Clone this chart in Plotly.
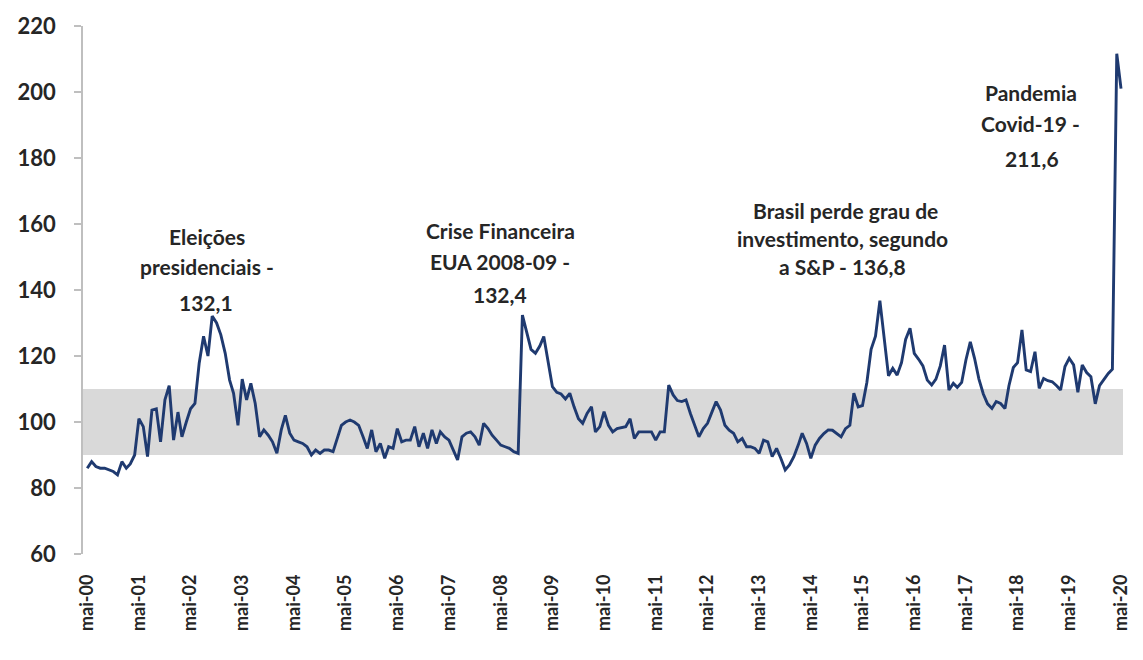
import pandas as pd
import plotly.graph_objects as go

# Monthly index values, starting May 2000
values_2000_2004 = [
    86, 88, 86.5, 86, 86, 85.5, 85, 84,                              # 2000 (mai-dez)
    88, 86, 87.3, 90, 101, 98.6, 89.5, 103.6, 104, 94, 106.7, 111,   # 2001
    94.5, 103, 95.5, 100, 104, 105.6, 117.8, 126, 120, 132.1, 130, 126.4,  # 2002
    120.8, 112.7, 108.7, 99, 113, 106.7, 111.7, 105.6, 95.5, 97.6, 96, 94,  # 2003
    90.5, 97.6, 102, 96.6, 94.5, 94, 93.5, 92.5, 90, 91.5, 90.5, 91.5,      # 2004
]
values_2005_2009 = [
    91.5, 91, 95, 99, 100, 100.6, 100, 99, 95.5, 92, 97.6, 91,            # 2005
    93.5, 89, 92.5, 92, 98, 94, 94.5, 94.5, 98.6, 92.5, 96.6, 92,         # 2006
    97.6, 93.5, 97, 95.5, 94.5, 91.5, 88.5, 95.5, 96.6, 97, 95.5, 93,     # 2007
    99.6, 98, 96, 94.5, 93, 92.5, 92, 91, 90.5, 132.4, 126.9, 122,        # 2008
    120.8, 123, 125.9, 117.8, 110.7, 109, 108.5, 107, 108.7, 104.6, 101, 99.6,  # 2009
]
values_2010_2014 = [
    102.6, 104.6, 97, 98.6, 103.1, 99, 97, 98, 98.3, 98.6, 101, 95,       # 2010
    97, 97, 97, 97, 94.5, 97, 97, 111.2, 108.2, 106.5, 106.2, 106.7,      # 2011
    102.6, 99, 95.5, 98, 99.6, 103, 106.2, 103.6, 99, 97.5, 96.6, 94,     # 2012
    95, 92.5, 92.5, 92, 90.5, 94.5, 94, 89.5, 92, 89, 85.5, 87,           # 2013
    89.5, 93, 96.6, 93.5, 89, 93, 95, 96.5, 97.6, 97.5, 96.6, 95.5,       # 2014
]
values_2015_2020 = [
    98, 99, 108.7, 104.6, 105, 112, 122, 126, 136.8, 124.8, 114, 116.3,   # 2015
    114.2, 118, 125, 128.4, 120.8, 119, 117, 112.7, 111.2, 113, 117, 123.3,  # 2016
    109.7, 111.7, 110.5, 112, 118.8, 124.3, 119.3, 113, 108.5, 105.5, 104.1, 106.2,  # 2017
    105.6, 104.1, 111, 116.5, 118, 127.9, 115.8, 115.3, 121.3, 110.2, 113.2, 112.5,  # 2018
    112.2, 111, 109.7, 116.8, 119.3, 117.3, 109, 117.3, 115, 113.7, 105.5, 111,      # 2019
    113, 114.7, 116, 211.6, 201,                                           # 2020 (jan-mai)
]
values = values_2000_2004 + values_2005_2009 + values_2010_2014 + values_2015_2020
dates = pd.date_range("2000-05-01", periods=len(values), freq="MS")

tick_years = list(range(2000, 2021))
tick_dates = [f"{y}-05-01" for y in tick_years]
tick_text = [f"mai-{y % 100:02d}" for y in tick_years]

y_ticks = [60, 80, 100, 120, 140, 160, 180, 200, 220]
band_low, band_high = 90, 110

annotation_lines = [
    ("Eleições", 208, 236),
    ("presidenciais -", 208, 266),
    ("132,1", 207, 302),
    ("Crise Financeira", 503, 230),
    ("EUA 2008-09 -", 503, 261),
    ("132,4", 503, 294),
    ("Brasil perde grau de", 851, 210),
    ("investimento, segundo", 848, 238),
    ("a S&P - 136,8", 848, 266),
    ("Pandemia", 1037, 92),
    ("Covid-19 -", 1037, 124),
    ("211,6", 1038, 158),
]

W, H = 1143, 660
L, R, T, B = 83, 13, 26, 106


def px_to_paper_x(px):
    return (px - L) / (W - L - R)


def px_to_paper_y(py):
    return (H - B - py) / (H - T - B)


fig = go.Figure()
fig.add_shape(type="rect", xref="paper", yref="y", x0=0, x1=1,
              y0=band_low, y1=band_high, fillcolor="#d9d9d9",
              line=dict(width=0), layer="below")
fig.add_trace(go.Scatter(x=dates, y=values, mode="lines",
                         line=dict(color="#1f3a70", width=2.9),
                         hoverinfo="x+y", showlegend=False))

for text, px, py in annotation_lines:
    fig.add_annotation(text=text, xref="paper", yref="paper",
                       x=px_to_paper_x(px), y=px_to_paper_y(py),
                       xanchor="center", yanchor="middle", showarrow=False,
                       font=dict(family="Lato", size=21, color="#262626", weight="bold"))

fig.update_layout(
    width=W, height=H,
    margin=dict(l=L, r=R, t=T, b=B),
    paper_bgcolor="white", plot_bgcolor="white",
    xaxis=dict(type="date", range=["2000-04-01", "2020-05-15"],
               tickvals=tick_dates, ticktext=tick_text, tickangle=-90,
               showgrid=False, showline=False, zeroline=False, ticks="",
               ticklabelstandoff=16,
               tickfont=dict(family="Lato", size=18, color="#262626", weight="bold")),
    yaxis=dict(range=[60, 220], tickvals=y_ticks, showgrid=False, zeroline=False,
               showline=True, linecolor="#bfbfbf", linewidth=1.5,
               ticks="outside", ticklen=7, tickcolor="#bfbfbf", tickwidth=1.5,
               ticklabelstandoff=14,
               tickfont=dict(family="Lato", size=22, color="#262626", weight="bold")),
)

fig.write_html("out.html")
